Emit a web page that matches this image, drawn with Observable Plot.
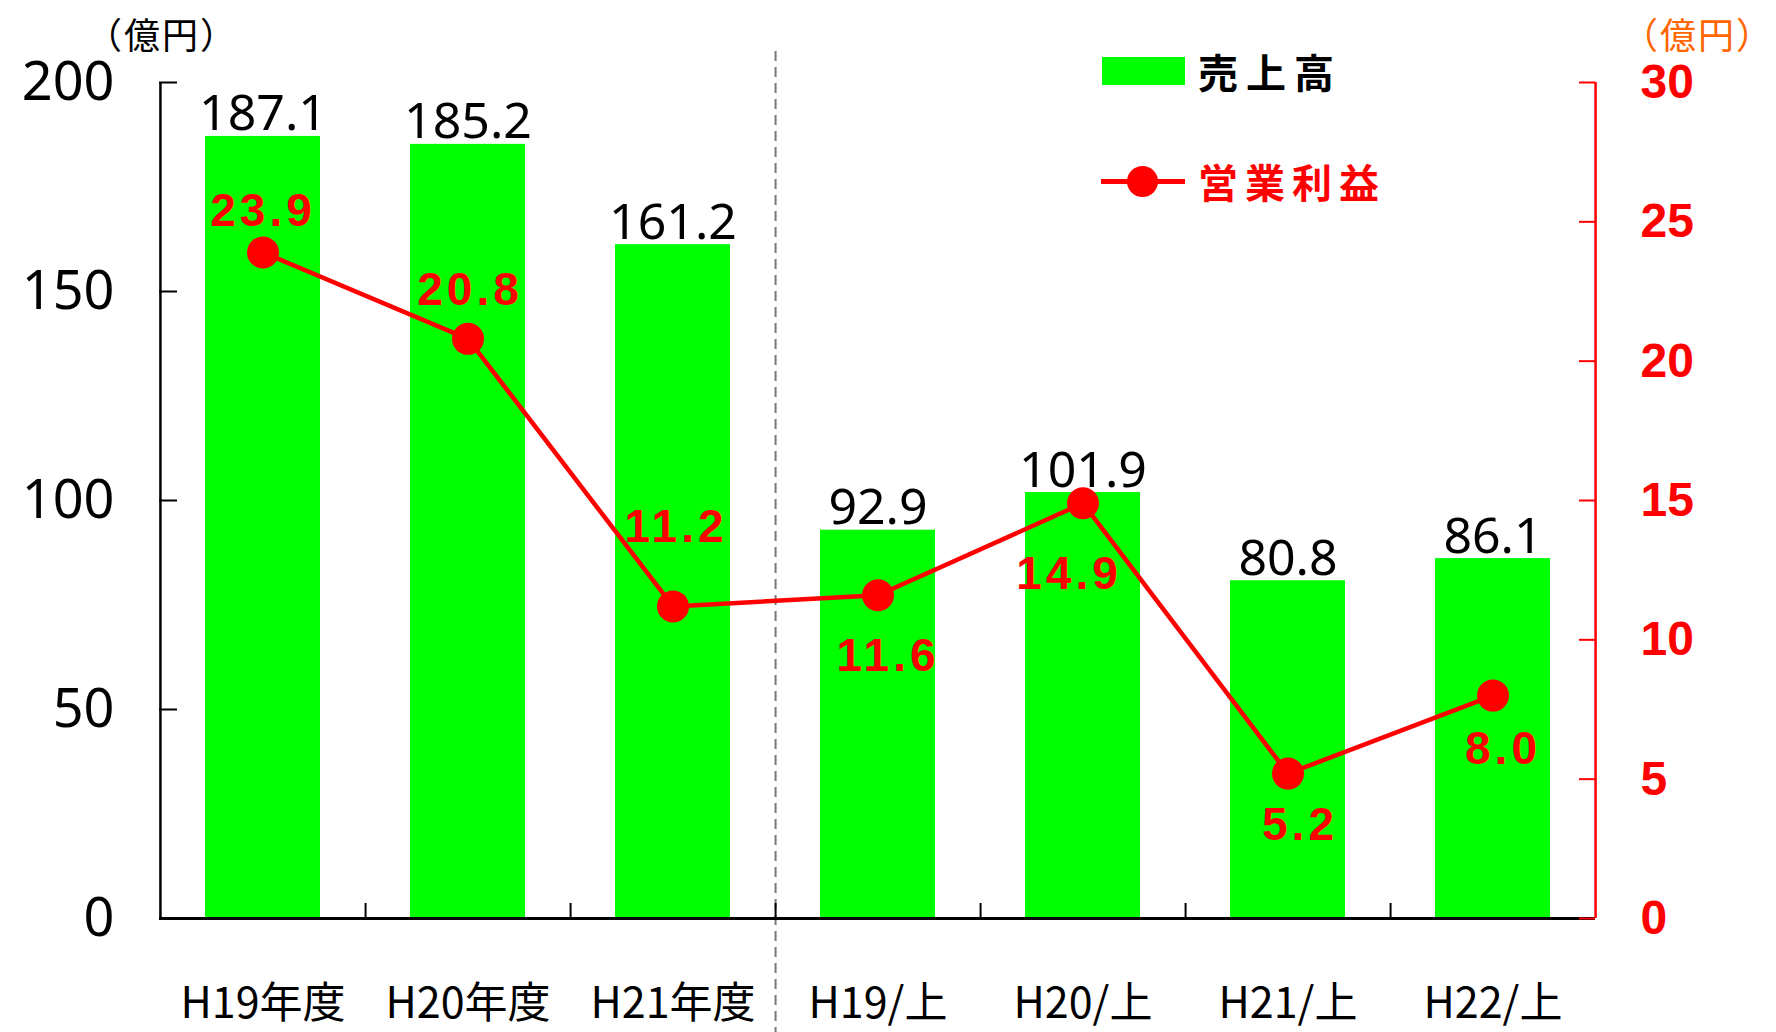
<!DOCTYPE html>
<html><head><meta charset="utf-8">
<script src="https://cdn.jsdelivr.net/npm/d3@7"></script>
<script src="https://cdn.jsdelivr.net/npm/@observablehq/plot@0.6"></script>
<style>
body{margin:0;background:#fff;}
#wrap{position:relative;width:1776px;height:1032px;overflow:hidden;background:#fff;}
.ov{position:absolute;white-space:nowrap;line-height:1;font-family:'Noto Sans CJK JP',sans-serif;}
</style></head><body><div id="wrap"></div>
<script>
const categories = ["H19年度","H20年度","H21年度","H19/上","H20/上","H21/上","H22/上"];
const sales = [187.1,185.2,161.2,92.9,101.9,80.8,86.1];
const profit = [23.9,20.8,11.2,11.6,14.9,5.2,8.0];
const salesTicks = [0,50,100,150,200];
const profitTicks = [0,5,10,15,20,25,30];
const legendSales = "売上高";
const legendProfit = "営業利益";
const unitLabel = "（億円）";

// layout
const W=1776,H=1032,mL=159,mR=181,mT=82,mB=114;
const plotW=W-mL-mR, plotH=H-mT-mB, step=plotW/categories.length;
const k = salesTicks[salesTicks.length-1]/profitTicks[profitTicks.length-1];
const profitLabelDx=[0,2,3,10,-14,12,10];
const profitLabelDy=[-41,-49,-79,61,71,52,54];

const rows = categories.map((c,i)=>({cat:c, sales:sales[i], profit:profit[i]}));

const chart = Plot.plot({
  width:W,height:H,marginLeft:mL,marginRight:mR,marginTop:mT,marginBottom:mB,
  style:{fontFamily:"'Noto Sans', sans-serif", background:"#fff", color:"#000", overflow:"visible"},
  x:{domain:categories, paddingInner:0.44, paddingOuter:0.22},
  y:{domain:[0,200]},
  marks:[
    Plot.barY(rows,{x:"cat",y:"sales",fill:"#00ff00"}),
    Plot.ruleX([categories[2]],{x:d=>d, dx:step/2, stroke:"#777", strokeWidth:2, strokeDasharray:"10,6", insetTop:-31, insetBottom:-mB}),
    Plot.ruleY([0],{stroke:"#000",strokeWidth:3}),
    Plot.ruleX([categories[0]],{x:d=>d,dx:-step/2,stroke:"#000",strokeWidth:2.5}),
    Plot.ruleX([categories[categories.length-1]],{x:d=>d,dx:step/2,stroke:"#ff0000",strokeWidth:2.5}),
    Plot.ruleX(categories.slice(0,-1),{x:d=>d,dx:step/2,insetTop:plotH-15,stroke:"#000",strokeWidth:2}),
    Plot.ruleY(salesTicks,{y:d=>d, insetRight:plotW-18, stroke:"#000", strokeWidth:2}),
    Plot.ruleY(profitTicks,{y:d=>d*k, insetLeft:plotW-16, stroke:"#ff0000", strokeWidth:2}),
    Plot.axisY({anchor:"left", ticks:salesTicks, tickSize:0, tickPadding:45, fontSize:54, label:null}),
    Plot.axisY({anchor:"right", ticks:profitTicks.map(t=>t*k), tickFormat:d=>String(Math.round(d/k)), tickSize:0, tickPadding:45, fontSize:48, fontWeight:"bold", fontFamily:"'Liberation Sans', Arial, sans-serif", color:"#ff0000", label:null}),
    Plot.axisX({anchor:"bottom", tickSize:0, tickPadding:69, fontSize:43, fontFamily:"'Noto Sans CJK JP', sans-serif", label:null}),
    Plot.text(rows,{x:"cat", y:"sales", text:d=>d.sales.toFixed(1), lineAnchor:"bottom", dy:-6, fontSize:50, fill:"#000"}),
    Plot.line(rows,{x:"cat", y:d=>d.profit*k, stroke:"#ff0000", strokeWidth:4.5}),
    Plot.dot(rows,{x:"cat", y:d=>d.profit*k, r:16, fill:"#ff0000"}),
    ...rows.map((d,i)=>Plot.text([d],{x:"cat", y:dd=>dd.profit*k, text:dd=>dd.profit.toFixed(1), dx:profitLabelDx[i], dy:profitLabelDy[i], fill:"#ff0000", fontSize:46, fontWeight:"bold", fontFamily:"'Liberation Sans', Arial, sans-serif", lineAnchor:"middle", className:"plabel"}))
  ]
});
d3.select(chart).selectAll(".plabel text").attr("letter-spacing", 4);
const wrap = document.getElementById("wrap");
wrap.appendChild(chart);

function ov(html, css){ const d=document.createElement("div"); d.className="ov"; d.style.cssText=css; d.innerHTML=html; wrap.appendChild(d); return d; }
ov(unitLabel, "left:86px;top:15px;font-size:36px;color:#000;letter-spacing:2px;");
ov(unitLabel, "right:2px;top:15px;font-size:36px;color:#ff6600;letter-spacing:2px;");
ov("", "left:1102px;top:57px;width:83px;height:28px;background:#00ff00;");
ov(legendSales, "left:1198px;top:51px;font-size:40px;font-weight:bold;color:#000;letter-spacing:8px;");
ov("", "left:1101px;top:179px;width:84px;height:5px;background:#ff0000;");
ov("", "left:1127px;top:166px;width:31px;height:31px;border-radius:50%;background:#ff0000;");
ov(legendProfit, "left:1198px;top:161px;font-size:40px;font-weight:bold;color:#ff0000;letter-spacing:7px;");
</script></body></html>
